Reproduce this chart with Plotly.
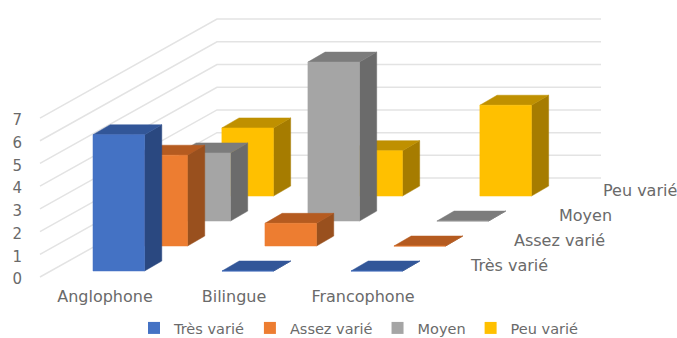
import plotly.graph_objects as go

categories = ["Anglophone", "Bilingue", "Francophone"]
series = ["Très varié", "Assez varié", "Moyen", "Peu varié"]
tres_varie = [6, 0, 0]
assez_varie = [4, 1, 0]
moyen = [3, 7, 0]
peu_varie = [3, 2, 4]
value_ticks = [0, 1, 2, 3, 4, 5, 6, 7]

values = [tres_varie, assez_varie, moyen, peu_varie]
front = ["#4472C4", "#ED7D31", "#A5A5A5", "#FFC000"]
top = ["#325698", "#B55B20", "#7C7C7C", "#BF9000"]
side = ["#2A4880", "#99501E", "#6B6B6B", "#A67C00"]
TEXT = "#6A6A6A"
FONT = "DejaVu Sans"

W, H = 677, 346
ML = 23
PX_CAT, PX_VAL = 129.0, 22.71
X0, Y0 = 105.0, 277.0
KX, KY = 0.333, 1.10      # shift of one depth step along x (categories) and y (values)
WALL_KX, LABEL_KX = 0.3465, 0.343
BAR_W, BAR_D = 0.40, 0.40
FIRST_D = 0.24
FLOOR_X = -0.173
WALL_L, WALL_R, WALL_D = -0.504, 2.473, 3.96


def P(c, d, v, kx=KX):
    return c + kx * d, v + KY * d


def poly(points):
    xs, ys = [], []
    for c, d, v in points:
        x, y = P(c, d, v)
        xs.append(x)
        ys.append(y)
    xs.append(xs[0])
    ys.append(ys[0])
    return xs + [None], ys + [None]


fig = go.Figure()

for v in value_ticks:
    xs, ys = zip(*[P(WALL_L, 0, v, WALL_KX), P(WALL_L, WALL_D, v, WALL_KX), P(WALL_R, WALL_D, v, WALL_KX)])
    fig.add_trace(go.Scatter(x=xs, y=ys, mode="lines", showlegend=False, hoverinfo="skip",
                             line=dict(color="#E3E3E3", width=1.5)))

for s in range(3, -1, -1):
    d = FIRST_D + s
    faces = {"side": ([], []), "top": ([], []), "front": ([], [])}
    for i, val in enumerate(values[s]):
        a = FLOOR_X + i
        b = a + BAR_W
        for name, pts in (
            ("side", [(b, d, 0), (b, d + BAR_D, 0), (b, d + BAR_D, val), (b, d, val)]),
            ("top", [(a, d, val), (b, d, val), (b, d + BAR_D, val), (a, d + BAR_D, val)]),
            ("front", [(a, d, 0), (b, d, 0), (b, d, val), (a, d, val)]),
        ):
            xs, ys = poly(pts)
            faces[name][0].extend(xs)
            faces[name][1].extend(ys)
    for name, col in (("side", side[s]), ("top", top[s]), ("front", front[s])):
        fig.add_trace(go.Scatter(x=faces[name][0], y=faces[name][1], mode="lines", fill="toself",
                                 fillcolor=col, line=dict(color=col, width=0.5),
                                 showlegend=False, name=series[s], hoverinfo="name"))

for s in range(4):
    fig.add_trace(go.Scatter(x=[None], y=[None], mode="markers", name=series[s],
                             marker=dict(symbol="square", size=12, color=front[s])))

# depth-axis labels
for s, name in enumerate(series):
    lx, ly = P(2.732, FIRST_D + s, 0.264, LABEL_KX)
    fig.add_annotation(x=lx, y=ly, text=name, showarrow=False, xanchor="left", yanchor="middle",
                       font=dict(family=FONT, size=16, color=TEXT))

fig.update_layout(
    width=W, height=H, margin=dict(l=ML, r=0, t=0, b=0),
    paper_bgcolor="white", plot_bgcolor="white",
    font=dict(family=FONT, size=15, color=TEXT),
    xaxis=dict(range=[(ML - X0) / PX_CAT, (W - X0) / PX_CAT], tickmode="array",
               tickvals=[0, 1, 2], ticktext=categories, showgrid=False, zeroline=False,
               showline=False, ticks="", anchor="free", position=(H - 285) / H,
               tickfont=dict(size=16)),
    yaxis=dict(range=[(Y0 - H) / PX_VAL, Y0 / PX_VAL], tickmode="array", tickvals=value_ticks,
               showgrid=False, zeroline=False, showline=False, ticks="", ticklabelshift=2),
    legend=dict(orientation="h", x=(134 - ML) / (W - ML), xanchor="left", y=(H - 328) / H,
                yanchor="middle", bgcolor="rgba(0,0,0,0)", font=dict(family=FONT, size=14.5, color=TEXT)),
    showlegend=True,
)
fig.write_html("out.html", config={"displayModeBar": False},
               post_script="document.body.style.margin='0';document.body.style.overflow='hidden';")
